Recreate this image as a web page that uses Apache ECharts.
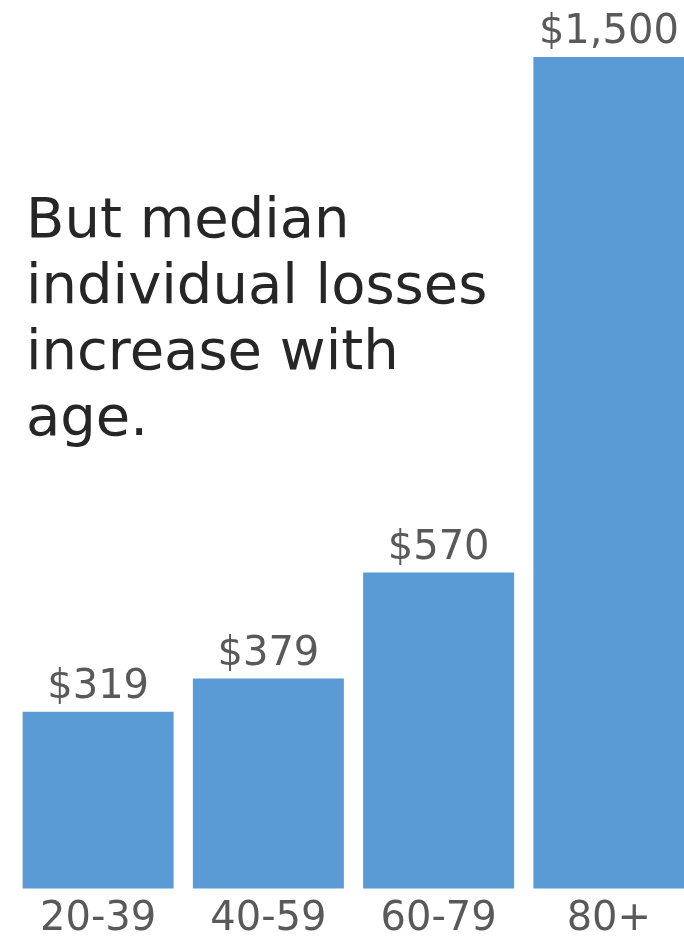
<!DOCTYPE html>
<html>
<head>
<meta charset="utf-8">
<script src="https://cdn.jsdelivr.net/npm/echarts@6/dist/echarts.min.js"></script>
<style>
html,body{margin:0;padding:0;background:#fff;}
#c{width:684px;height:936px;}
</style>
</head>
<body>
<div id="c"></div>
<script>
var categories = ['20-39', '40-59', '60-79', '80+'];
var values = [319, 379, 570, 1500];
var valueLabels = ['$319', '$379', '$570', '$1,500'];
var titleLines = ['But median', 'individual losses', 'increase with', 'age.'];

var chart = echarts.init(document.getElementById('c'), null, {renderer: 'canvas'});
chart.setOption({
  animation: false,
  backgroundColor: '#ffffff',
  grid: {left: 13, right: -10, top: 57, bottom: 47.5, containLabel: false, outerBoundsMode: 'none'},
  xAxis: {
    type: 'category',
    data: categories,
    axisLine: {show: false},
    axisTick: {show: false},
    axisLabel: {
      color: '#595959',
      fontFamily: 'DejaVu Sans',
      fontSize: 40,
      margin: 11
    }
  },
  yAxis: {
    type: 'value',
    min: 0,
    max: 1500,
    show: false,
    splitLine: {show: false}
  },
  series: [{
    type: 'bar',
    data: values,
    barWidth: 151,
    itemStyle: {color: '#5B9BD5'},
    label: {
      show: true,
      position: 'top',
      distance: 4,
      color: '#595959',
      fontFamily: 'DejaVu Sans',
      fontSize: 40,
      formatter: function (p) { return valueLabels[p.dataIndex]; }
    }
  }],
  graphic: [{
    type: 'text',
    left: 26,
    top: 189,
    style: {
      text: titleLines.join('\n'),
      fill: '#262626',
      font: '56px "DejaVu Sans"',
      lineHeight: 66
    }
  }]
});
</script>
</body>
</html>
